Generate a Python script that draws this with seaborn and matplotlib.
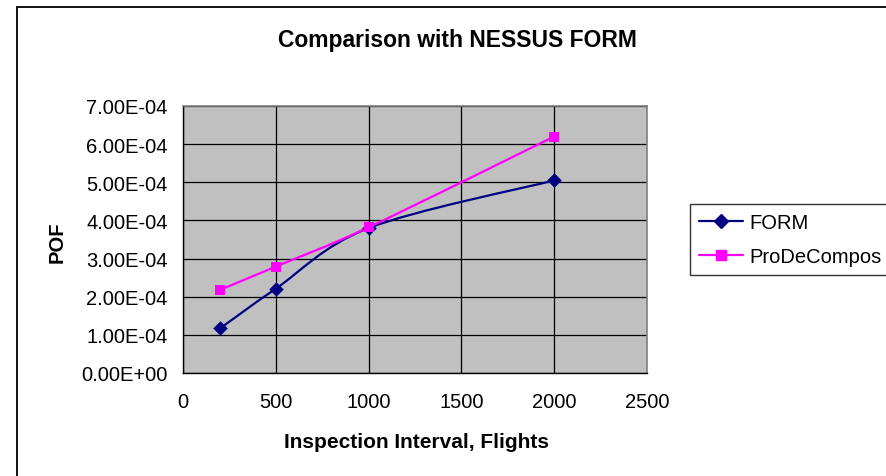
import numpy as np
import matplotlib
matplotlib.use("Agg")
import matplotlib.pyplot as plt
from matplotlib.path import Path
from matplotlib.patches import PathPatch, Rectangle
from matplotlib.lines import Line2D
from matplotlib.ticker import FuncFormatter, MultipleLocator
import seaborn as sns
import pandas as pd

# ---- data ----
intervals = [200, 500, 1000, 2000]
form_pof = [1.17e-4, 2.21e-4, 3.80e-4, 5.05e-4]
prodecompos_pof = [2.18e-4, 2.79e-4, 3.82e-4, 6.20e-4]
series_names = ["FORM", "ProDeCompos"]
series_colors = ["#000080", "#FF00FF"]
series_markers = ["D", "s"]

title = "Comparison with NESSUS FORM"
xlabel = "Inspection Interval, Flights"
ylabel = "POF"

sns.set_theme(style="white")
plt.rcParams["font.family"] = ["Liberation Sans", "DejaVu Sans"]
plt.rcParams["text.color"] = "black"
plt.rcParams["axes.labelcolor"] = "black"
plt.rcParams["xtick.color"] = "black"
plt.rcParams["ytick.color"] = "black"

W, H = 886, 477
fig = plt.figure(figsize=(W / 100, H / 100), dpi=100)
fig.patch.set_facecolor("white")

ax = fig.add_axes([183 / W, 1 - 374 / H, (647 - 183) / W, (374 - 107) / H])
ax.set_facecolor("#C0C0C0")

df = pd.DataFrame({
    "x": intervals * 2,
    "y": form_pof + prodecompos_pof,
    "series": [series_names[0]] * 4 + [series_names[1]] * 4,
})


def smooth_path(xs, ys):
    # Excel-style smoothed line: Catmull-Rom converted to cubic Bezier segments
    pts = np.column_stack([xs, ys]).astype(float)
    n = len(pts)
    verts = [pts[0]]
    codes = [Path.MOVETO]
    for i in range(n - 1):
        p0 = pts[i - 1] if i > 0 else pts[i]
        p1 = pts[i]
        p2 = pts[i + 1]
        p3 = pts[i + 2] if i + 2 < n else pts[i + 1]
        c1 = p1 + (p2 - p0) / 6.0
        c2 = p2 - (p3 - p1) / 6.0
        verts += [c1, c2, p2]
        codes += [Path.CURVE4] * 3
    return Path(verts, codes)


for name, color, mk in zip(series_names, series_colors, series_markers):
    sub = df[df["series"] == name]
    path = smooth_path(sub["x"].values, sub["y"].values)
    ax.add_patch(PathPatch(path, facecolor="none", edgecolor=color, lw=1.6,
                           transform=ax.transData, zorder=3))
    sns.scatterplot(data=sub, x="x", y="y", ax=ax, color=color, marker=mk,
                    s=60 if mk == "s" else 55, edgecolor=color, linewidth=0,
                    zorder=4, legend=False)

ax.set_xlim(0, 2500)
ax.set_ylim(0, 7e-4)
ax.xaxis.set_major_locator(MultipleLocator(500))
ax.yaxis.set_major_locator(MultipleLocator(1e-4))
ax.yaxis.set_major_formatter(FuncFormatter(lambda v, p: "{:.2E}".format(v)))
ax.grid(True, color="black", lw=0.9)
ax.set_axisbelow(True)
ax.set_xlabel("")
ax.set_ylabel("")

for s in ["top", "right"]:
    ax.spines[s].set_color("#808080")
    ax.spines[s].set_linewidth(1.2)
for s in ["left", "bottom"]:
    ax.spines[s].set_color("black")
    ax.spines[s].set_linewidth(1.0)

ax.tick_params(axis="both", which="major", direction="out", length=5,
               width=0.9, color="black", labelsize=14.5, labelcolor="black")
ax.tick_params(axis="y", pad=6)
ax.tick_params(axis="x", pad=9)

fig.text(457 / W, 1 - 40 / H, title, ha="center", va="center",
         fontsize=16.5, fontweight="bold", color="black")
fig.text(416 / W, 1 - 443 / H, xlabel, ha="center", va="center",
         fontsize=15, fontweight="bold", color="black")
fig.text(57 / W, 1 - 242 / H, ylabel, ha="center", va="center",
         fontsize=14.5, fontweight="bold", rotation=90, color="black")

handles = [Line2D([0], [0], color=c, lw=1.6, marker=m,
                  markersize=7.5 if m == "s" else 7, markerfacecolor=c,
                  markeredgecolor=c)
           for c, m in zip(series_colors, series_markers)]
leg = fig.legend(handles, series_names, loc="upper left",
                 bbox_to_anchor=(690 / W, 1 - 205 / H), fontsize=14.5,
                 frameon=True, fancybox=False, handlelength=2.2,
                 handletextpad=0.3, borderpad=0.45, labelspacing=0.75,
                 borderaxespad=0)
leg.get_frame().set_edgecolor("black")
leg.get_frame().set_linewidth(1.0)

fig.add_artist(Rectangle((16.5 / W, -0.05), 1.1, 1 - 7.5 / H + 0.05,
                         transform=fig.transFigure, fill=False,
                         edgecolor="black", lw=1.3, clip_on=False))

fig.savefig("out.png", dpi=100, facecolor="white")
